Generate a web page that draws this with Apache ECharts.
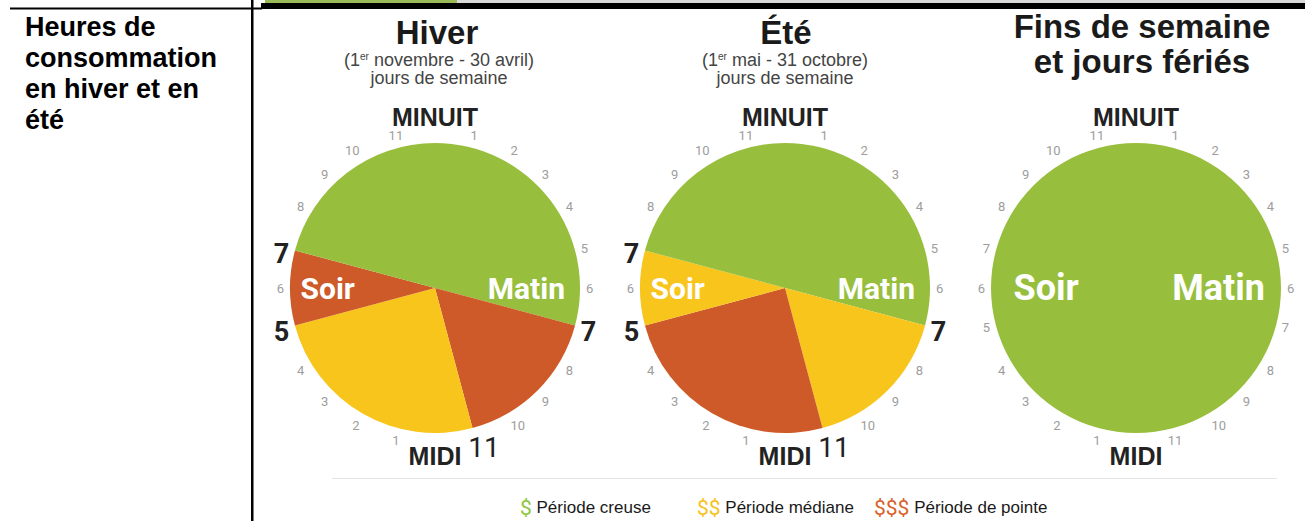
<!DOCTYPE html>
<html>
<head>
<meta charset="utf-8">
<title>Heures de consommation</title>
<script src="https://cdn.jsdelivr.net/npm/echarts@6/dist/echarts.min.js"></script>
<style>
  html, body { margin: 0; padding: 0; background: #fff; }
  #chart { width: 1305px; height: 521px; }
</style>
</head>
<body>
<div id="chart"></div>
<script>
// clock face, one label per hour, clockwise from midnight
var hourLabels = ['MINUIT', '1', '2', '3', '4', '5', '6', '7', '8', '9', '10', '11',
                  'MIDI', '1', '2', '3', '4', '5', '6', '7', '8', '9', '10', '11'];

var periods = ['Période creuse', 'Période médiane', 'Période de pointe'];
var periodSigns = ['$', '$$', '$$$'];
var periodColors = ['#97bf3d', '#f8c51c', '#cd5a28'];

// blocks of hours from midnight: period index + length in hours
var hiverPeriods = [0, 2, 1, 2, 0];
var hiverHours = [7, 4, 6, 2, 5];
var etePeriods = [0, 1, 2, 1, 0];
var eteHours = [7, 4, 6, 2, 5];
var finsPeriods = [0];
var finsHours = [24];

// hours written big on the dial
var hiverBig = [7, 11, 17, 19];
var eteBig = [7, 11, 17, 19];
var finsBig = [];

var dayParts = ['Matin', 'Soir'];
var dayPartHours = [6, 18];

var clocks = [
  { periods: hiverPeriods, hours: hiverHours, big: hiverBig },
  { periods: etePeriods, hours: eteHours, big: eteBig },
  { periods: finsPeriods, hours: finsHours, big: finsBig }
];

var centersX = [435, 785, 1136];
var CY = 288, R = 145;
// radial place of Matin / Soir, and their size
var partRadius = [[0.63, 0.74], [0.63, 0.74], [0.57, 0.62]];
var partSize = [30, 30, 36];

function pieData(p, h) {
  return h.map(function (v, i) {
    return { name: periods[p[i]], value: v, itemStyle: { color: periodColors[p[i]] } };
  });
}

function hourFormatter(big) {
  return function (value, index) {
    if (index === 0) return '{m|' + value + '}';
    if (index === 12) return '{d|' + value + '}';
    if (big.indexOf(index) >= 0) return (index === 11 ? '{e|' : '{b|') + value + '}';
    return '{s|' + value + '}';
  };
}

var chart = echarts.init(document.getElementById('chart'), null, { renderer: 'svg' });

var series = [];
clocks.forEach(function (c, k) {
  series.push({
    type: 'pie',
    center: [centersX[k], CY],
    radius: R,
    startAngle: 90,
    clockwise: true,
    silent: true,
    label: { show: false },
    labelLine: { show: false },
    emphasis: { disabled: true },
    data: pieData(c.periods, c.hours)
  });
  series.push({
    type: 'scatter',
    coordinateSystem: 'polar',
    polarIndex: k,
    symbolSize: 1,
    silent: true,
    z: 5,
    itemStyle: { color: 'transparent', opacity: 1 },
    label: {
      show: true,
      position: 'inside',
      formatter: '{b}',
      color: '#fff',
      opacity: 1,
      fontSize: partSize[k],
      fontWeight: 'bold',
      fontFamily: 'Roboto'
    },
    data: dayParts.map(function (n, i) {
      return { name: n, value: [partRadius[k][i], dayPartHours[i]] };
    })
  });
});

var titleFont = 'Liberation Sans';
var subStyle = { fontSize: 18, fontWeight: 'normal', color: '#444', fontFamily: titleFont, lineHeight: 18 };
var subRich = {
  sup: { fontSize: 10, fontWeight: 'normal', verticalAlign: 'top', lineHeight: 18, color: '#444', fontFamily: titleFont }
};

var option = {
  animation: false,
  backgroundColor: '#fff',
  title: [
    {
      text: 'Heures de\nconsommation\nen hiver et en\nété',
      left: 25, top: 11, padding: 0,
      textStyle: { fontSize: 27, fontWeight: 'bold', lineHeight: 31, color: '#000', fontFamily: titleFont }
    },
    {
      text: 'Hiver', left: 437, top: 18, padding: 0, textAlign: 'center',
      textStyle: { fontSize: 33, fontWeight: 'bold', color: '#1a1a1a', fontFamily: titleFont, lineHeight: 29 }
    },
    {
      text: '(1{sup|er} novembre - 30 avril)\njours de semaine', left: 439, top: 51, padding: 0, textAlign: 'center',
      textStyle: Object.assign({ rich: subRich }, subStyle)
    },
    {
      text: 'Été', left: 786, top: 18, padding: 0, textAlign: 'center',
      textStyle: { fontSize: 33, fontWeight: 'bold', color: '#1a1a1a', fontFamily: titleFont, lineHeight: 29 }
    },
    {
      text: '(1{sup|er} mai - 31 octobre)\njours de semaine', left: 785, top: 51, padding: 0, textAlign: 'center',
      textStyle: Object.assign({ rich: subRich }, subStyle)
    },
    {
      text: 'Fins de semaine\net jours fériés', left: 1142, top: 9, padding: 0, textAlign: 'center',
      textStyle: { fontSize: 33, fontWeight: 'bold', color: '#1a1a1a', fontFamily: titleFont, lineHeight: 35 }
    }
  ],
  legend: periods.map(function (name, i) {
    var rich = {};
    rich['p' + i] = { fontSize: 21, color: ['#8dc63f', '#f6c21a', '#d9622b'][i], fontFamily: 'Roboto' };
    return {
      data: [name],
      left: [515, 692, 869][i],
      top: 497,
      padding: 0,
      itemWidth: 0,
      itemHeight: 0,
      selectedMode: false,
      formatter: function (n) { return '{p' + i + '|' + periodSigns[i] + '} ' + n; },
      textStyle: { fontSize: 17, color: '#1a1a1a', fontFamily: titleFont, rich: rich }
    };
  }),
  polar: centersX.map(function (x) { return { center: [x, CY], radius: R }; }),
  angleAxis: clocks.map(function (c, k) {
    return {
      polarIndex: k,
      type: 'category',
      data: hourLabels,
      boundaryGap: false,
      startAngle: 90,
      clockwise: true,
      axisLine: { show: false },
      axisTick: { show: false },
      splitLine: { show: false },
      axisLabel: {
        interval: 0,
        margin: 6,
        color: '#9d9d9d',
        formatter: hourFormatter(c.big),
        rich: {
          s: { fontSize: 13, color: '#9d9d9d', fontFamily: 'Roboto' },
          b: { fontSize: 27, fontWeight: 'bold', color: '#222', fontFamily: 'Roboto', padding: [10, 0, 0, 0] },
          e: { fontSize: 28, color: '#222', fontFamily: 'Roboto', padding: [0, 0, 0, 20] },
          m: { fontSize: 25, fontWeight: 'bold', color: '#222', fontFamily: titleFont, padding: [0, 0, 8, 0] },
          d: { fontSize: 25, fontWeight: 'bold', color: '#222', fontFamily: titleFont, padding: [4, 0, 0, 0] }
        }
      }
    };
  }),
  radiusAxis: clocks.map(function (c, k) {
    return {
      polarIndex: k, type: 'value', min: 0, max: 1,
      axisLine: { show: false }, axisTick: { show: false },
      axisLabel: { show: false }, splitLine: { show: false }
    };
  }),
  graphic: [
    { type: 'rect', shape: { x: 457, y: 0, width: 848, height: 3 }, style: { fill: '#d9d9d9' }, silent: true },
    { type: 'rect', shape: { x: 265, y: 0, width: 192, height: 4 }, style: { fill: '#9bbb59' }, silent: true },
    { type: 'rect', shape: { x: 261, y: 3, width: 1044, height: 6 }, style: { fill: '#000' }, silent: true },
    { type: 'rect', shape: { x: 10, y: 7.5, width: 252, height: 2 }, style: { fill: '#000' }, silent: true },
    { type: 'rect', shape: { x: 251, y: 0, width: 2.5, height: 521 }, style: { fill: '#000' }, silent: true },
    { type: 'line', shape: { x1: 332, y1: 478.5, x2: 1277, y2: 478.5 }, style: { stroke: '#e4e4e4', lineWidth: 1 }, silent: true }
  ],
  series: series
};

chart.setOption(option);
</script>
</body>
</html>
